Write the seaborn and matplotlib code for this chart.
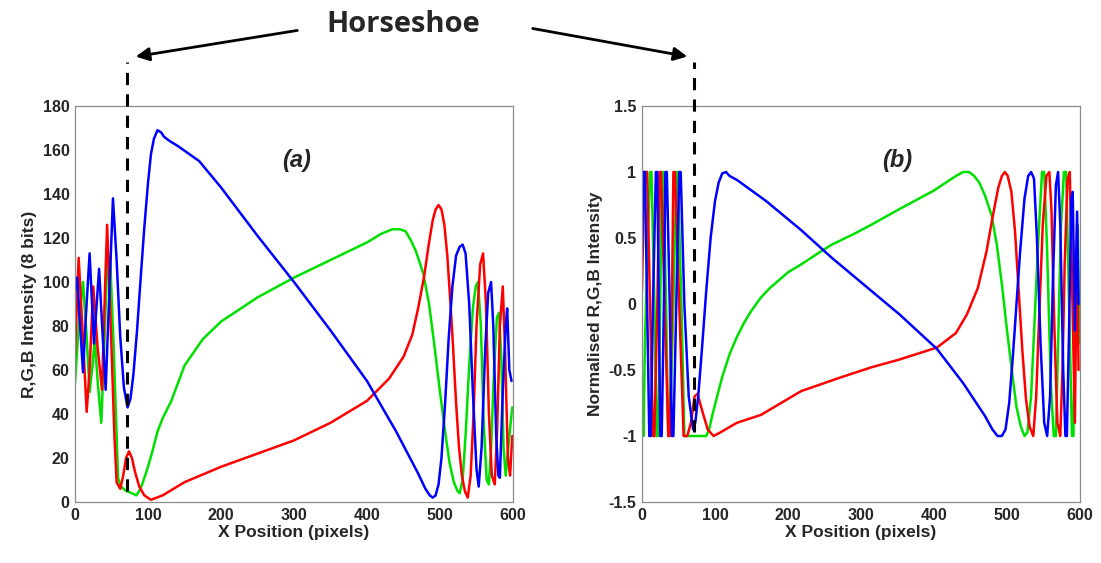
import numpy as np
import pandas as pd
import matplotlib
matplotlib.use("Agg")
import matplotlib.pyplot as plt
import seaborn as sns

# ---------------- data ----------------
# Panel (a): raw R,G,B intensity (8 bits)
blue_a_x = [0, 3, 7, 11, 15, 20, 26, 33, 38, 42, 47, 52, 57, 62, 67, 72, 76, 80, 85, 90, 95, 100, 104, 108,
            113, 118, 122, 130, 140, 170, 200, 250, 300, 350, 400, 440, 470, 480, 486, 490, 494, 498, 502, 507,
            512, 517, 522, 527, 531, 535, 540, 545, 550, 553, 557, 562, 566, 570, 573, 577, 580, 582, 586, 590,
            592, 595, 598]
blue_a_y = [96, 102, 80, 59, 85, 113, 72, 106, 75, 51, 95, 138, 110, 75, 52, 43, 47, 58, 78, 102, 125, 145, 158,
            165, 169, 168, 166, 164, 162, 155, 143, 121, 100, 78, 55, 32, 13, 6, 3, 2, 3, 8, 20, 45,
            75, 98, 112, 116, 117, 113, 90, 50, 15, 7, 25, 70, 95, 100, 80, 30, 12, 11, 50, 80,
            88, 60, 55]

red_a_x = [0, 5, 10, 16, 20, 25, 31, 37, 40, 44, 50, 54, 57, 62, 66, 70, 74, 78, 82, 88, 95, 104, 112, 120,
           150, 200, 250, 300, 350, 400, 430, 450, 462, 470, 478, 485, 490, 494, 498, 502, 506, 510, 514, 518,
           522, 526, 530, 534, 538, 542, 546, 550, 555, 559, 563, 567, 571, 575, 578, 582, 586, 589, 593, 596,
           599]
red_a_y = [67, 111, 80, 41, 60, 98, 70, 51, 85, 126, 70, 30, 9, 6, 12, 20, 23, 20, 14, 7, 3, 1, 2, 3,
           9, 16, 22, 28, 36, 46, 56, 66, 76, 88, 102, 118, 128, 133, 135, 133, 126, 112, 92, 70,
           45, 25, 12, 5, 2, 12, 40, 80, 108, 113, 90, 40, 12, 8, 30, 80, 98, 70, 20, 12,
           30]

green_a_x = [0, 6, 11, 16, 20, 24, 27, 31, 36, 40, 44, 48, 53, 59, 63, 70, 78, 84, 88, 92, 96, 100, 106, 113,
             120, 132, 150, 175, 200, 250, 300, 350, 400, 420, 435, 445, 453, 460, 467, 477, 485, 492, 500, 507,
             513, 519, 524, 527, 531, 535, 540, 545, 549, 552, 556, 560, 564, 567, 570, 574, 578, 581, 584, 587,
             590, 595, 599]
green_a_y = [54, 85, 100, 75, 50, 62, 74, 55, 36, 70, 108, 112, 70, 11, 7, 5, 4, 3, 5, 8, 12, 16, 23, 32,
             38, 46, 62, 74, 82, 93, 102, 110, 118, 122, 124, 124, 123, 119, 114, 104, 90, 72, 50, 32,
             18, 9, 5, 4, 10, 30, 62, 88, 98, 100, 80, 35, 10, 8, 25, 60, 84, 86, 65, 25,
             12, 30, 43]

# Panel (b): normalised R,G,B intensity
blue_b_x = [0, 2, 4, 7, 10, 12, 15, 19, 21, 23, 25, 27, 30, 32, 34, 38, 41, 43, 47, 51, 53, 58, 64, 70, 73, 77,
            82, 88, 94, 100, 105, 110, 115, 120, 130, 140, 170, 218, 260, 314, 353, 404, 440, 470, 480, 487, 493,
            498, 503, 508, 513, 518, 524, 529, 533, 537, 541, 546, 551, 555, 559, 563, 567, 570, 573, 577, 580,
            582, 585, 588, 590, 593, 596, 598]
blue_b_y = [0.35, 1, 1, 0, -1, -1, 0, 1, 1, 0, -1, -1, 0, 1, 1, 0, -1, -1, 0, 1, 1, 0, -0.7, -0.95, -0.9, -0.7,
            -0.35, 0.1, 0.5, 0.78, 0.92, 0.99, 1, 0.97, 0.94, 0.9, 0.78, 0.56, 0.35, 0.1, -0.08, -0.34, -0.6,
            -0.85, -0.95, -1, -1, -0.95, -0.75, -0.4, 0, 0.4, 0.8, 0.97, 1, 0.95, 0.5, -0.3, -0.9, -1, -0.7,
            0.2, 0.9, 1, 0.6, -0.5, -1, -1, -0.2, 0.8, 0.85, -0.2, 0.7, 0.0]

red_b_x = [0, 3, 7, 11, 15, 17, 21, 24, 26, 31, 36, 38, 41, 43, 45, 51, 57, 62, 67, 72, 76, 82, 90, 98, 105,
           130, 163, 218, 270, 314, 353, 404, 430, 445, 460, 472, 480, 488, 493, 497, 501, 506, 511, 516, 521,
           526, 531, 536, 540, 544, 549, 554, 558, 561, 565, 569, 573, 576, 579, 583, 586, 589, 593, 596, 598]
red_b_y = [0.1, 1, 1, 0, -1, -1, 0, 1, 1, 0, -1, -1, 0, 1, 1, 0, -1, -1, -0.9, -0.7, -0.68, -0.8, -0.95, -1, -0.98,
           -0.9, -0.84, -0.66, -0.56, -0.48, -0.42, -0.33, -0.22, -0.08, 0.12, 0.4, 0.65, 0.88, 0.97, 1, 0.97,
           0.85, 0.55, 0.1, -0.35, -0.72, -0.93, -1, -0.7, -0.1, 0.6, 0.97, 1, 0.7, -0.2, -0.9, -1, -0.5, 0.3,
           0.95, 1, 0.2, -0.9, 0.6, -0.5]

green_b_x = [0, 2, 4, 8, 11, 13, 17, 20, 22, 25, 27, 29, 33, 36, 38, 43, 47, 49, 54, 58, 62, 70, 80, 88, 92,
             96, 102, 110, 120, 130, 140, 150, 163, 175, 200, 218, 240, 260, 290, 314, 353, 400, 430, 440, 448,
             455, 462, 470, 479, 486, 493, 500, 507, 513, 519, 524, 528, 533, 538, 543, 548, 551, 555, 560, 564,
             567, 570, 574, 578, 581, 585, 589, 591, 594, 597, 599]
green_b_y = [-0.75, -1, -0.3, 0.5, 1, 1, 0, -1, -1, 0, 1, 1, 0, -1, -1, 0, 1, 1, 0, -1, -1, -1, -1, -1, -0.95,
             -0.85, -0.72, -0.55, -0.38, -0.25, -0.14, -0.05, 0.05, 0.12, 0.24, 0.3, 0.38, 0.45, 0.53, 0.6,
             0.72, 0.86, 0.97, 1, 1, 0.97, 0.92, 0.82, 0.67, 0.45, 0.15, -0.2, -0.52, -0.78, -0.93, -1, -0.97,
             -0.7, -0.1, 0.5, 1, 1, 0.4, -0.6, -1, -1, -0.3, 0.6, 1, 1, 0, -1, -1, 0.2, 0.6, -0.3]

horseshoe_x = 71  # x position of the horseshoe marker

# ---------------- figure ----------------
sns.set_style("white")
plt.rcParams['font.family'] = ['Liberation Sans', 'DejaVu Sans']

W, H = 1101, 563
fig = plt.figure(figsize=(W / 100, H / 100), dpi=100)

def ax_rect(l, r, t, b):
    return [l / W, 1 - b / H, (r - l) / W, (b - t) / H]

ax_a = fig.add_axes(ax_rect(75, 513, 106, 502))
ax_b = fig.add_axes(ax_rect(642, 1080, 106, 502))

RED, GREEN, BLUE = "#ff0000", "#00e000", "#0000ff"

def draw(ax, series):
    for xs, ys, c in series:
        df = pd.DataFrame({"x": xs, "y": ys})
        sns.lineplot(data=df, x="x", y="y", ax=ax, color=c, lw=1.8, sort=False, estimator=None)

draw(ax_a, [(green_a_x, green_a_y, GREEN), (red_a_x, red_a_y, RED), (blue_a_x, blue_a_y, BLUE)])
draw(ax_b, [(green_b_x, green_b_y, GREEN), (red_b_x, red_b_y, RED), (blue_b_x, blue_b_y, BLUE)])

ax_a.set_xlim(0, 600)
ax_a.set_ylim(0, 180)
ax_a.set_yticks(np.arange(0, 181, 20))
ax_b.set_xlim(0, 600)
ax_b.set_ylim(-1.5, 1.5)
ax_b.set_yticks([-1.5, -1, -0.5, 0, 0.5, 1, 1.5])
ax_b.set_yticklabels(["-1.5", "-1", "-0.5", "0", "0.5", "1", "1.5"])

for ax in (ax_a, ax_b):
    ax.set_xticks(np.arange(0, 601, 100))
    ax.tick_params(direction="in", length=4, width=0.8, color="#555555", labelsize=11.5, pad=4)
    for lab in ax.get_xticklabels() + ax.get_yticklabels():
        lab.set_fontweight("bold")
        lab.set_color("#262626")
    for s in ax.spines.values():
        s.set_color("#8c8c8c")
        s.set_linewidth(0.9)
    ax.set_xlabel("X Position (pixels)", fontsize=12.5, fontweight="bold", color="#262626", labelpad=2)

ax_a.set_ylabel("R,G,B Intensity (8 bits)", fontsize=12.5, fontweight="bold", color="#262626", labelpad=4)
ax_b.set_ylabel("Normalised R,G,B Intensity", fontsize=12.5, fontweight="bold", color="#262626", labelpad=4)

ax_a.text(304, 155, "(a)", fontsize=17, fontweight="bold", fontstyle="italic", ha="center", va="center")
ax_b.text(349, 1.09, "(b)", fontsize=17, fontweight="bold", fontstyle="italic", ha="center", va="center")

# horseshoe dashed markers
ax_a.plot([horseshoe_x, horseshoe_x], [5, 200], ls=(0, (4, 3)), color="black", lw=2.2, clip_on=False, zorder=5)
ax_b.plot([horseshoe_x, horseshoe_x], [-0.97, 1.83], ls=(0, (4, 3)), color="black", lw=2.2, clip_on=False, zorder=5)

def fp(x, y):
    return (x / W, 1 - y / H)

fig.text(*fp(403, 25), "Horseshoe", fontsize=21, fontweight="bold", family=["Open Sans", "DejaVu Sans"],
         ha="center", va="center")
fig.add_artist(matplotlib.patches.FancyArrowPatch(fp(300, 30), fp(133, 57), transform=fig.transFigure,
                                                   arrowstyle="-|>,head_length=8,head_width=4", lw=2, color="black"))
fig.add_artist(matplotlib.patches.FancyArrowPatch(fp(530, 28), fp(690, 57), transform=fig.transFigure,
                                                   arrowstyle="-|>,head_length=8,head_width=4", lw=2, color="black"))

fig.savefig("out.png", dpi=100, facecolor="white")
